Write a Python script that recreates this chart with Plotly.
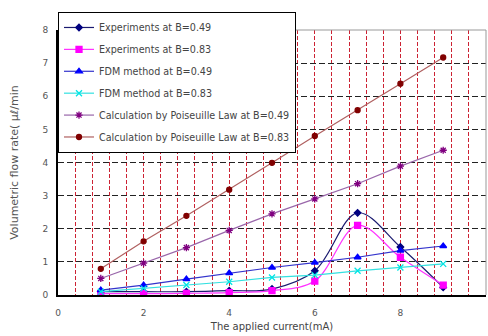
import plotly.graph_objects as go

current = [1, 2, 3, 4, 5, 6, 7, 8, 9]
exp_049 = [0.10, 0.10, 0.10, 0.13, 0.18, 0.73, 2.48, 1.45, 0.23]
exp_083 = [0.04, 0.04, 0.05, 0.07, 0.13, 0.42, 2.10, 1.14, 0.30]
fdm_049 = [0.15, 0.30, 0.48, 0.66, 0.83, 0.98, 1.14, 1.34, 1.48]
fdm_083 = [0.10, 0.20, 0.30, 0.40, 0.53, 0.60, 0.73, 0.83, 0.94]
pois_049 = [0.50, 0.96, 1.43, 1.95, 2.45, 2.90, 3.36, 3.89, 4.37]
pois_083 = [0.79, 1.62, 2.39, 3.18, 3.99, 4.80, 5.58, 6.38, 7.17]

names = [
    "Experiments at B=0.49",
    "Experiments at B=0.83",
    "FDM method at B=0.49",
    "FDM method at B=0.83",
    "Calculation by Poiseuille Law at B=0.49",
    "Calculation by Poiseuille Law at B=0.83",
]

fig = go.Figure()

styles = [
    (exp_049, "#1a1a70", "#000080", "diamond", 5, "spline"),
    (exp_083, "#ff33ff", "#ff00ff", "square", 6, "spline"),
    (fdm_049, "#3333cc", "#0000ff", "triangle-up", 6, "linear"),
    (fdm_083, "#33e0e0", "#00e5e5", "x-thin-open", 6, "linear"),
    (pois_049, "#9966aa", "#800080", "asterisk-open", 6, "linear"),
    (pois_083, "#b06060", "#800000", "circle", 5, "linear"),
]

for i, (vals, lc, mc, sym, ms, shape) in enumerate(styles):
    fig.add_trace(go.Scatter(
        x=current, y=vals, name=names[i], mode="lines+markers",
        legendgroup=f"g{i}",
        line=dict(color=lc, width=1.2, shape=shape, smoothing=1.0),
        marker=dict(symbol=sym, size=ms, color=mc, line=dict(color=mc, width=1.3)),
    ))

red = "#cc2233"
fig.update_layout(
    width=488, height=336,
    margin=dict(l=58, r=2, t=30, b=41, autoexpand=False),
    paper_bgcolor="white", plot_bgcolor="white",
    font=dict(family="DejaVu Sans", size=9, color="#555555"),
    showlegend=True,
    legend=dict(
        x=0, y=1.068, xanchor="left", yanchor="top",
        bgcolor="white", bordercolor="black", borderwidth=1,
        font=dict(family="DejaVu Sans", size=9.6, color="#444444"),
        tracegroupgap=2.9, itemwidth=30,
    ),
    xaxis=dict(
        range=[0, 10], dtick=2, tick0=0, automargin=False,
        showgrid=True, gridcolor=red, griddash="4px,2px", gridwidth=1,
        minor=dict(dtick=0.4, tick0=0, showgrid=True, gridcolor=red, griddash="4px,2px", gridwidth=1),
        showline=True, linecolor="black", linewidth=2,
        zeroline=False, ticks="outside", ticklen=8, tickcolor="rgba(0,0,0,0)",
        title=dict(text="The applied current(mA)", font=dict(size=10, color="#444444"), standoff=6),
        tickfont=dict(size=9, color="#555555"),
    ),
    yaxis=dict(
        range=[0, 8], dtick=1, tick0=0, automargin=False,
        showgrid=True, gridcolor="#222222", griddash="6px,3px", gridwidth=1,
        showline=True, linecolor="black", linewidth=2,
        zeroline=False, ticks="outside", ticklen=6, tickcolor="rgba(0,0,0,0)",
        title=dict(text="Volumetric flow rate( μℓ/min", font=dict(size=11, color="#555555"), standoff=22),
        tickfont=dict(size=9, color="#555555"),
    ),
    shapes=[
        dict(type="line", xref="paper", yref="paper", x0=0, x1=1, y0=1, y1=1,
             line=dict(color="#999999", width=1), layer="above"),
        dict(type="line", xref="paper", yref="paper", x0=1, x1=1, y0=0, y1=1,
             line=dict(color="#999999", width=1), layer="above"),
    ],
)

fig.write_html("out.html", config={"displayModeBar": False},
               post_script="document.body.style.margin='0';")
